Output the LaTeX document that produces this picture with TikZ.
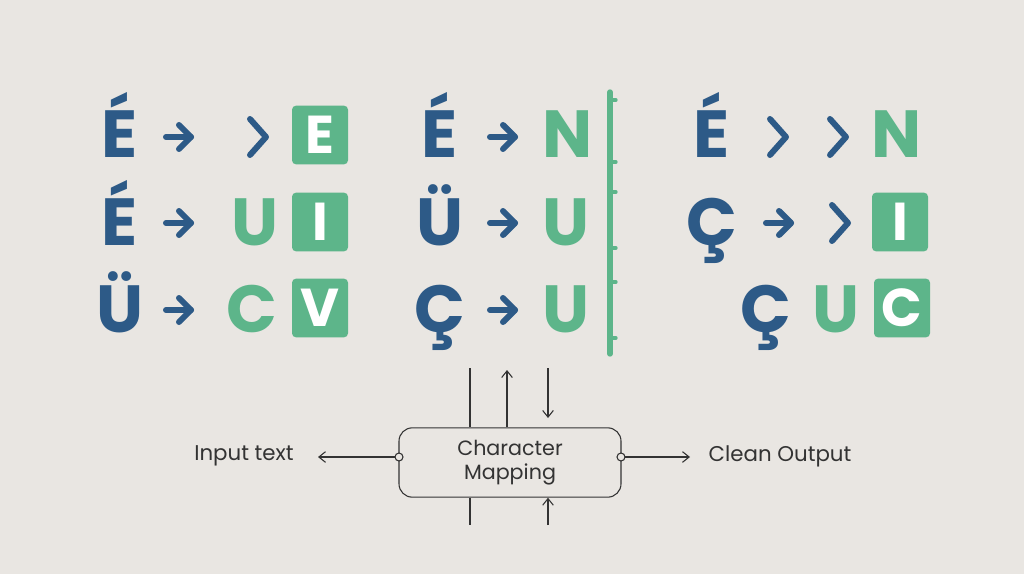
\documentclass[tikz,border=0pt]{standalone}
\usepackage{fontspec}
\setmainfont{Poppins}
\usetikzlibrary{arrows.meta}
\definecolor{bg}{HTML}{E9E6E2}
\definecolor{bl}{HTML}{2D5A87}
\definecolor{gr}{HTML}{5DB58A}
\definecolor{ln}{HTML}{333333}
\begin{document}
\begin{tikzpicture}[x=0.75pt,y=-0.75pt,
  bch/.style={font=\fontsize{50}{50}\selectfont\bfseries,text=bl,inner sep=0pt,anchor=base},
  gch/.style={font=\fontsize{50}{50}\selectfont\bfseries,text=gr,inner sep=0pt,anchor=base},
  gbox/.style={fill=gr,text=white,rounded corners=3pt,minimum width=42pt,minimum height=44pt,font=\fontsize{40}{40}\selectfont\bfseries,inner sep=0pt},
  arr/.style={draw=bl,line width=4.5pt,line cap=round,line join=round},
  chev/.style={draw=bl,line width=4.5pt,line cap=round,line join=round},
  thin/.style={draw=ln,line width=0.8pt},
  lbl/.style={font=\fontsize{16}{16}\selectfont,text=ln}]
\fill[bg] (0,0) rectangle (1024,574);
\useasboundingbox (0,0) rectangle (1024,574);
\tikzset{barrow/.pic={\draw[arr] (-12,0)--(13,0); \draw[arr] (1,-12)--(13,0)--(1,12);},
 bchev/.pic={\draw[chev] (-8,-18)--(8,0)--(-8,18);}}
% column 1
\node[bch] (a1) at (120,158) {É};
\pic at (178,137) {barrow};
\pic at (258,137) {bchev};
\node[gbox] (a1o) at (320,135) {E};
\node[bch] (a2) at (120,245) {É};
\pic at (178,223) {barrow};
\node[gch] (a2m) at (255,245) {U};
\node[gbox] (a2o) at (320,222) {I};
\node[bch] (a3) at (120,332) {Ü};
\pic at (178,310) {barrow};
\node[gch] (a3m) at (252,332) {C};
\node[gbox] (a3o) at (320,308) {V};
% column 2
\node[bch] (b1) at (440,158) {É};
\pic at (502,137) {barrow};
\node[gch] (b1m) at (568,158) {N};
\node[bch] (b2) at (440,245) {Ü};
\pic at (502,223) {barrow};
\node[gch] (b2m) at (566,245) {U};
\node[bch] (b3) at (440,332) {Ç};
\pic at (502,310) {barrow};
\node[gch] (b3m) at (566,332) {U};
\draw[draw=gr,line width=4pt,line cap=round] (610,92)--(610,354);
\foreach \y in {100,162,192,248,282,338}{\draw[draw=gr,line width=2.5pt,line cap=round] (610,\y)--(616,\y);}
% column 3
\node[bch] (c1) at (712,158) {É};
\pic at (778,137) {bchev};
\pic at (838,137) {bchev};
\node[gch] (c1o) at (897,158) {N};
\node[bch] (c2) at (712,245) {Ç};
\pic at (778,223) {barrow};
\pic at (840,223) {bchev};
\node[gbox] (c2o) at (900,222) {I};
\node[bch] (c3) at (766,332) {Ç};
\node[gch] (c3m) at (836,332) {U};
\node[gbox] (c3o) at (902,308) {C};
% bottom
\node[thin,rounded corners=10pt,minimum width=166.5pt,minimum height=52pt,align=center,text=ln,font=\fontsize{15.5}{18}\selectfont] (m) at (510,462.5) {Character\\Mapping};
\coordinate (pl) at (399,457);
\coordinate (pr) at (621,457);
\node[lbl] (in) at (244,456) {Input text};
\node[lbl] (out) at (780,456) {Clean Output};
\coordinate (l1) at (318,457);
\coordinate (r1) at (690,457);
\draw[thin,-{Straight Barb[length=5pt,width=8pt]}] (pl)--(l1);
\draw[thin,-{Straight Barb[length=5pt,width=8pt]}] (pr)--(r1);
\draw[thin,fill=bg] (pl) circle (3pt);
\draw[thin,fill=bg] (pr) circle (3pt);
\coordinate (v1) at (470,368);
\coordinate (v2) at (507,370);
\coordinate (v3a) at (548,368);
\coordinate (v3b) at (548,418);
\coordinate (w1) at (470,525);
\coordinate (w2) at (548,525);
\draw[thin] (v1)--(v1|-m.north);
\draw[thin,-{Straight Barb[length=5pt,width=8pt]}] (v2|-m.north)--(v2);
\draw[thin,-{Straight Barb[length=5pt,width=8pt]}] (v3a)--(v3b);
\draw[thin] (w1|-m.south)--(w1);
\draw[thin,-{Straight Barb[length=5pt,width=8pt]}] (w2)--(w2|-m.south);
\end{tikzpicture}
\end{document}
